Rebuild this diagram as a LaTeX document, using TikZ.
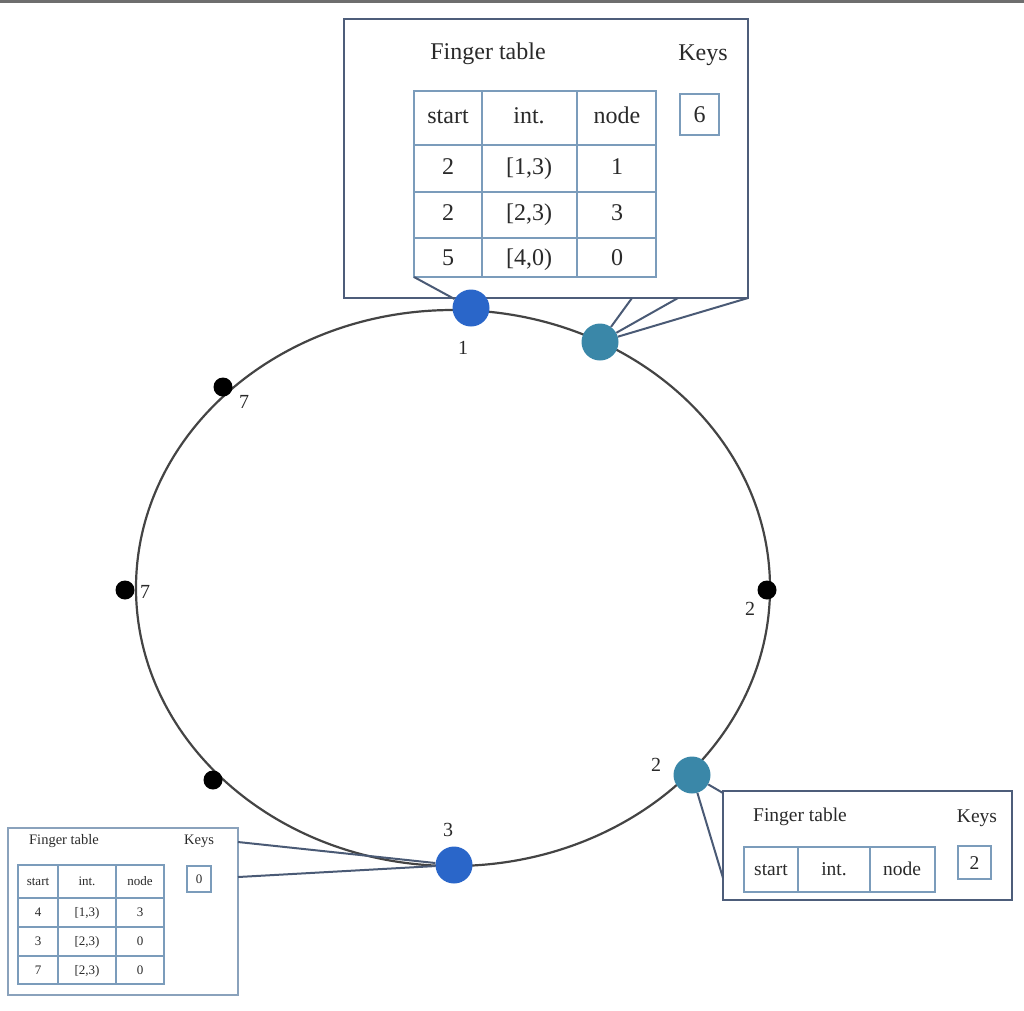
\documentclass[tikz,border=0pt]{standalone}
\usepackage{fontspec}
\setmainfont{Liberation Serif}
\definecolor{ringc}{HTML}{444444}
\definecolor{framec}{HTML}{4D5D7A}
\definecolor{framel}{HTML}{8AA2BC}
\definecolor{tabc}{HTML}{7B9CBB}
\definecolor{linkc}{HTML}{4A5A75}
\definecolor{bluen}{HTML}{2A66C9}
\definecolor{tealn}{HTML}{3A87A8}
\definecolor{txtc}{HTML}{2A2A2A}
\definecolor{barc}{HTML}{6E6E6E}
\begin{document}
\begin{tikzpicture}[x=1pt,y=-1pt,
  ring/.style={draw=ringc, line width=2.2pt},
  frame/.style={draw=framec, line width=2pt, fill=white},
  tab/.style={draw=tabc, line width=1.6pt},
  link/.style={draw=linkc, line width=2pt},
  bignode/.style={circle, minimum size=37pt, inner sep=0pt},
  dot/.style={circle, fill=black, minimum size=19pt, inner sep=0pt},
  txt/.style={text=txtc, inner sep=0pt, text depth=0pt},
  lab/.style={txt, font=\fontsize{20}{24}\selectfont, text height=13.6pt},
  bigt/.style={txt, font=\fontsize{24}{28}\selectfont, text height=16.3pt},
  midt/.style={txt, font=\fontsize{19.5}{23}\selectfont, text height=13.3pt},
  smallt/.style={txt, font=\fontsize{13}{15}\selectfont, text height=8.8pt},
  smallh/.style={txt, font=\fontsize{14.5}{17}\selectfont, text height=9.9pt}]
\useasboundingbox (0,0) rectangle (1024,1010);
\fill[barc] (0,0) rectangle (1024,3);

% ring
\draw[ring] (453,588) ellipse [x radius=317, y radius=278];

% ---------- top box ----------
\draw[frame] (344,19) rectangle (748,298);
\node[bigt] (t1title) at (488,51) {Finger table};
\node[bigt] (t1keys) at (703,52) {Keys};
\draw[tab] (414,91) rectangle (656,277);
\foreach \x in {482,577} \draw[tab] (\x,91) -- (\x,277);
\foreach \y in {145,192,238} \draw[tab] (414,\y) -- (656,\y);
\node[bigt] (t1h1) at (448,115) {start};
\node[bigt] (t1h2) at (529,115) {int.};
\node[bigt] (t1h3) at (617,115) {node};
\node[bigt] (t1a1) at (448,166) {2};
\node[bigt] (t1a2) at (529,166) {[1,3)};
\node[bigt] (t1a3) at (617,166) {1};
\node[bigt] (t1b1) at (448,212) {2};
\node[bigt] (t1b2) at (529,212) {[2,3)};
\node[bigt] (t1b3) at (617,212) {3};
\node[bigt] (t1c1) at (448,257) {5};
\node[bigt] (t1c2) at (529,257) {[4,0)};
\node[bigt] (t1c3) at (617,257) {0};
\draw[tab] (680,94) rectangle (719,135);
\node[bigt] (t1k) at (699.5,114.5) {6};

% ---------- right box ----------
\draw[frame] (723,791) rectangle (1012,900);
\node[midt] (t2title) at (800,815) {Finger table};
\node[midt] (t2keys) at (977,816) {Keys};
\draw[tab] (744,847) rectangle (935,892);
\foreach \x in {798,870} \draw[tab] (\x,847) -- (\x,892);
\node[midt] (t2h1) at (771,869) {start};
\node[midt] (t2h2) at (834,869) {int.};
\node[midt] (t2h3) at (902,869) {node};
\draw[tab] (958,846) rectangle (991,879);
\node[midt] (t2k) at (974.5,862.5) {2};

% ---------- bottom-left box ----------
\draw[frame, draw=framel] (8,828) rectangle (238,995);
\node[smallh] (t3title) at (64,840) {Finger table};
\node[smallh] (t3keys) at (199,840) {Keys};
\draw[tab] (18,865) rectangle (164,984);
\foreach \x in {58,116} \draw[tab] (\x,865) -- (\x,984);
\foreach \y in {898,927,956} \draw[tab] (18,\y) -- (164,\y);
\node[smallt] (t3h1) at (38,881) {start};
\node[smallt] (t3h2) at (87,881) {int.};
\node[smallt] (t3h3) at (140,881) {node};
\node[smallt] (t3a1) at (38,912) {4};
\node[smallt] (t3a2) at (87,912) {[1,3)};
\node[smallt] (t3a3) at (140,912) {3};
\node[smallt] (t3b1) at (38,941) {3};
\node[smallt] (t3b2) at (87,941) {[2,3)};
\node[smallt] (t3b3) at (140,941) {0};
\node[smallt] (t3c1) at (38,970) {7};
\node[smallt] (t3c2) at (87,970) {[2,3)};
\node[smallt] (t3c3) at (140,970) {0};
\draw[tab] (187,866) rectangle (211,892);
\node[smallt] (t3k) at (199,879) {0};

% ---------- ring nodes ----------
\node[bignode, fill=bluen] (n1) at (471,308) {};
\node[bignode, fill=tealn] (n2) at (600,342) {};
\node[bignode, fill=tealn] (n4) at (692,775) {};
\node[bignode, fill=bluen] (n3) at (454,865) {};
\node[dot] (d1) at (223,387) {};
\node[dot] (d2) at (125,590) {};
\node[dot] (d3) at (767,590) {};
\node[dot] (d4) at (213,780) {};

% anchor coordinates for connectors
\coordinate (c1) at (414,277);
\coordinate (c2a) at (632,298);
\coordinate (c2b) at (678,298);
\coordinate (c2c) at (748,298);
\coordinate (c4a) at (723,793);
\coordinate (c4b) at (723,878);
\coordinate (c3a) at (238,842);
\coordinate (c3b) at (238,877);

\draw[link] (c1) -- (n1);
\draw[link] (n2) -- (c2a);
\draw[link] (n2) -- (c2b);
\draw[link] (n2) -- (c2c);
\draw[link] (n4) -- (c4a);
\draw[link] (n4) -- (c4b);
\draw[link] (c3a) -- (n3);
\draw[link] (c3b) -- (n3);

% labels
\node[lab] (l1) at (463,348) {1};
\node[lab] (l7a) at (244,402) {7};
\node[lab] (l7b) at (145,592) {7};
\node[lab] (l2a) at (750,609) {2};
\node[lab] (l2b) at (656,765) {2};
\node[lab] (l3) at (448,830) {3};
\end{tikzpicture}
\end{document}
